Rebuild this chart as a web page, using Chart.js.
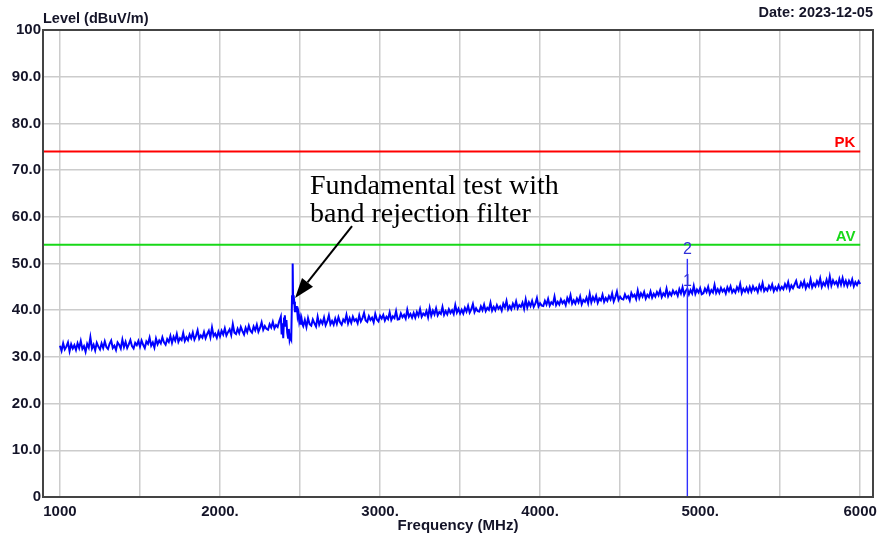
<!DOCTYPE html>
<html>
<head>
<meta charset="utf-8">
<script src="https://cdn.jsdelivr.net/npm/chart.js@4.4.1/dist/chart.umd.min.js"></script>
<style>
  html, body { margin: 0; padding: 0; background: #fff; }
  #wrap { width: 880px; height: 535px; }
</style>
</head>
<body>
<div id="wrap"><canvas id="chart" width="880" height="535"></canvas></div>
<script>
// axis ticks
const xTicks = [1000, 1500, 2000, 2500, 3000, 3500, 4000, 4500, 5000, 5500, 6000];
const xTickLabels = ["1000", "", "2000.", "", "3000.", "", "4000.", "", "5000.", "", "6000"];
const yTicks = [0, 10, 20, 30, 40, 50, 60, 70, 80, 90, 100];
const yTickLabels = ["0", "10.0", "20.0", "30.0", "40.0", "50.0", "60.0", "70.0", "80.0", "90.0", "100"];

// limits (dBuV/m)
const limitPK = 74;
const limitAV = 54;

// marker at 2nd harmonic
const markerFreq = 4920;
const markerPeak = 51;
const markerAvg = 44.3;

// sweep 1000 - 2370 MHz, 10 MHz step
const segAStart = 1000;
const segAStep = 10;
const segALevels = [
  32.4, 31.3, 32.9, 31.6, 32.2, 33.1, 31.2, 32.7, 31.8, 32.5,
  31.5, 32.9, 31.9, 33.4, 31.7, 32.3, 31.1, 32.8, 32.0, 34.2,
  31.8, 32.6, 31.4, 33.0, 32.2, 31.6, 32.9, 31.9, 33.3, 32.1,
  31.7, 32.8, 33.5, 31.9, 32.4, 31.5, 33.1, 32.6, 31.8, 33.7,
  32.1, 33.2, 31.9, 32.7, 33.6, 32.3, 31.8, 33.0, 32.5, 33.4,
  32.2, 33.5, 32.6, 31.9, 33.3, 32.8, 34.1, 32.4, 33.1, 32.0,
  33.9, 32.7, 33.5, 32.9, 34.2, 33.1, 32.6, 33.8, 33.2, 34.5,
  33.0, 34.3, 33.5, 34.9, 33.2, 34.0, 33.6, 35.1, 33.4, 34.2,
  33.6, 34.8, 34.0, 35.2, 33.7, 34.5, 35.7, 33.9, 34.6, 34.1,
  35.3, 34.0, 34.9, 35.6, 34.2, 36.3, 34.5, 35.0, 34.1, 35.4,
  34.4, 35.6, 34.8, 36.1, 34.6, 35.3, 35.9, 34.7, 37.0, 35.2,
  34.9, 36.0, 35.1, 36.4, 35.5, 34.8, 36.2, 35.3, 36.7, 35.6,
  35.2, 36.5, 35.7, 36.9, 35.4, 36.2, 37.4, 35.8, 36.6, 36.0,
  35.8, 37.0, 36.3, 37.5, 36.1, 36.8, 36.4, 37.6
];

// around the fundamental (band rejection filter)
const spikeFreqs = [2380, 2385, 2390, 2395, 2400, 2405, 2410, 2415, 2420, 2425,
  2430, 2435, 2440, 2445, 2450, 2454, 2457, 2460, 2464, 2468,
  2472, 2476, 2480, 2485, 2490, 2495, 2500, 2505, 2510, 2515];
const spikeLevels = [38.6, 34.8, 37.2, 34.0, 38.2, 38.9, 36.5, 37.9, 35.2, 34.1,
  36.0, 33.6, 34.3, 33.8, 43.0, 50.0, 41.5, 43.2, 41.8, 39.6,
  40.4, 39.8, 40.9, 38.7, 39.5, 37.6, 38.4, 36.9, 38.1, 37.0];

// sweep 2520 - 6000 MHz, 10 MHz step
const segBStart = 2520;
const segBStep = 10;
const segBLevels = [
  36.6, 37.9, 36.4, 38.3, 37.0, 36.7, 38.0, 37.2, 36.5, 38.6,
  36.9, 37.8, 37.1, 38.4, 36.8, 37.6, 38.9, 37.0, 37.7, 36.9,
  38.2, 37.1, 38.5, 37.4, 36.9, 38.0, 37.5, 39.0, 37.2, 38.3,
  37.3, 38.6, 37.7, 38.1, 37.2, 38.9, 37.6, 38.3, 39.4, 37.8,
  37.5, 38.7, 37.9, 38.4, 37.4, 39.2, 38.0, 37.6, 38.8, 38.2,
  39.0, 37.8, 38.6, 38.1, 39.5, 37.9, 38.7, 38.3, 39.8, 38.0,
  38.1, 39.3, 38.5, 39.0, 38.2, 40.1, 38.6, 39.2, 38.4, 39.4,
  38.4, 39.6, 38.8, 40.2, 38.6, 39.3, 38.9, 39.8, 38.5, 40.5,
  38.8, 39.9, 39.1, 40.4, 38.9, 39.6, 39.2, 40.7, 39.0, 39.8,
  39.1, 40.2, 39.4, 40.0, 39.2, 41.1, 39.5, 40.3, 39.3, 40.1,
  39.3, 40.5, 39.7, 40.9, 39.5, 40.2, 41.3, 39.6, 40.4, 39.8,
  39.7, 40.8, 40.0, 41.2, 39.8, 40.5, 40.1, 41.6, 39.9, 40.7,
  40.0, 41.1, 40.3, 40.8, 39.9, 41.4, 40.6, 42.0, 40.2, 40.9,
  40.2, 41.4, 40.6, 41.9, 40.4, 41.1, 40.7, 41.6, 40.3, 42.3,
  40.6, 41.7, 40.9, 42.0, 40.7, 41.4, 42.6, 40.8, 41.5, 41.0,
  40.9, 42.0, 41.2, 42.4, 41.0, 41.7, 41.3, 42.9, 41.1, 41.8,
  41.2, 42.3, 41.5, 42.0, 41.1, 42.6, 41.8, 43.2, 41.4, 42.1,
  41.4, 42.5, 41.7, 42.9, 41.3, 42.2, 41.8, 42.7, 41.5, 43.5,
  41.7, 42.8, 42.0, 43.1, 41.6, 42.5, 42.1, 43.3, 41.8, 42.6,
  42.0, 43.0, 42.3, 43.6, 41.9, 42.8, 44.0, 42.2, 42.9, 42.4,
  42.3, 43.4, 42.6, 43.0, 42.1, 43.7, 42.9, 43.3, 42.4, 44.2,
  42.6, 43.6, 42.9, 43.9, 42.5, 43.3, 42.8, 44.0, 42.7, 43.5,
  42.9, 43.9, 43.2, 44.3, 42.8, 43.6, 43.1, 44.6, 43.0, 43.8,
  43.2, 44.2, 43.5, 44.0, 43.1, 44.5, 43.6, 44.9, 43.3, 44.1,
  44.6, 43.4, 44.3, 43.6, 45.2, 43.5, 44.4, 43.8, 44.7, 43.4,
  43.6, 44.6, 43.9, 45.0, 43.5, 44.3, 43.8, 45.4, 43.7, 44.5,
  43.7, 44.8, 44.0, 44.5, 43.6, 44.9, 44.1, 45.1, 43.8, 44.4,
  43.8, 44.9, 44.2, 45.6, 43.7, 44.6, 44.0, 44.8, 43.9, 45.0,
  44.0, 45.1, 44.3, 44.8, 43.9, 45.3, 44.4, 45.8, 44.1, 44.7,
  44.2, 45.2, 44.5, 45.5, 44.1, 44.9, 44.3, 45.3, 44.4, 45.0,
  44.5, 45.6, 44.8, 46.0, 44.4, 45.3, 44.7, 45.5, 46.3, 44.9,
  44.8, 45.9, 45.1, 46.2, 44.7, 45.6, 45.0, 46.6, 44.9, 45.7,
  45.1, 46.2, 45.4, 46.8, 45.0, 45.9, 45.3, 46.5, 45.2, 47.2,
  45.3, 46.4, 45.6, 46.1, 45.2, 46.7, 45.5, 46.9, 45.4, 46.3,
  45.2, 46.3, 45.5, 46.6, 45.1, 46.0, 45.4, 46.2, 45.6
];

const xMin = 894;
const xMax = 6080;

const labelFont = '"Liberation Sans", Arial, sans-serif';

function buildTrace() {
  const pts = [];
  segALevels.forEach((v, i) => pts.push({ x: segAStart + i * segAStep, y: v }));
  spikeFreqs.forEach((f, i) => pts.push({ x: f, y: spikeLevels[i] }));
  segBLevels.forEach((v, i) => pts.push({ x: segBStart + i * segBStep, y: v }));
  return pts;
}

const overlay = {
  id: "overlay",
  afterDatasetsDraw(chart) {
    const { ctx, chartArea: a, scales: { x, y } } = chart;
    ctx.save();

    // frame
    ctx.strokeStyle = "#444";
    ctx.lineWidth = 2;
    ctx.strokeRect(a.left, a.top, a.right - a.left, a.bottom - a.top);

    // header texts
    ctx.fillStyle = "#141428";
    ctx.font = "bold 14.5px " + labelFont;
    ctx.textBaseline = "alphabetic";
    ctx.textAlign = "left";
    ctx.fillText("Level (dBuV/m)", a.left, a.top - 7);
    ctx.textAlign = "right";
    ctx.fillText("Date: 2023-12-05", a.right, a.top - 13);

    // limit labels
    const lx = x.getPixelForValue(5970);
    ctx.font = "bold 15px " + labelFont;
    ctx.fillStyle = "#ff0000";
    ctx.fillText("PK", lx, y.getPixelForValue(limitPK) - 4);
    ctx.fillStyle = "#18d818";
    ctx.fillText("AV", lx, y.getPixelForValue(limitAV) - 4);

    // marker numbers
    const mx = x.getPixelForValue(markerFreq);
    ctx.fillStyle = "#3030d8";
    ctx.font = "16px " + labelFont;
    ctx.textAlign = "center";
    ctx.textBaseline = "bottom";
    ctx.fillText("2", mx, y.getPixelForValue(markerPeak) - 1);
    ctx.fillText("1", mx, y.getPixelForValue(markerAvg) - 1);

    // annotation
    ctx.fillStyle = "#000";
    ctx.font = '28px "Liberation Serif", "Times New Roman", serif';
    ctx.textAlign = "left";
    ctx.textBaseline = "alphabetic";
    const tx = x.getPixelForValue(2562);
    const ty = y.getPixelForValue(64.9);
    ctx.fillText("Fundamental test with", tx, ty);
    ctx.fillText("band rejection filter", tx, ty + 28);

    // arrow
    const x0 = x.getPixelForValue(2825), y0 = y.getPixelForValue(58.0);
    const x1 = x.getPixelForValue(2469), y1 = y.getPixelForValue(42.6);
    const ang = Math.atan2(y1 - y0, x1 - x0);
    const head = 20, half = 7;
    const bx = x1 - head * Math.cos(ang), by = y1 - head * Math.sin(ang);
    ctx.strokeStyle = "#000";
    ctx.lineWidth = 2;
    ctx.beginPath();
    ctx.moveTo(x0, y0);
    ctx.lineTo(bx, by);
    ctx.stroke();
    ctx.beginPath();
    ctx.moveTo(x1, y1);
    ctx.lineTo(bx + half * Math.sin(ang), by - half * Math.cos(ang));
    ctx.lineTo(bx - half * Math.sin(ang), by + half * Math.cos(ang));
    ctx.closePath();
    ctx.fill();

    ctx.restore();
  }
};

new Chart(document.getElementById("chart"), {
  type: "line",
  data: {
    datasets: [
      {
        label: "PK",
        data: [{ x: xMin, y: limitPK }, { x: 6000, y: limitPK }],
        borderColor: "#ff0000",
        borderWidth: 2,
        pointRadius: 0
      },
      {
        label: "AV",
        data: [{ x: xMin, y: limitAV }, { x: 6000, y: limitAV }],
        borderColor: "#18d818",
        borderWidth: 2,
        pointRadius: 0
      },
      {
        label: "Marker",
        data: [{ x: markerFreq, y: 0 }, { x: markerFreq, y: markerPeak }],
        borderColor: "#3030ff",
        borderWidth: 1.4,
        pointRadius: 0
      },
      {
        label: "Trace",
        data: buildTrace(),
        borderColor: "#0000ff",
        borderWidth: 2,
        pointRadius: 0,
        tension: 0
      }
    ]
  },
  options: {
    responsive: false,
    animation: false,
    parsing: false,
    layout: { padding: { top: 30, right: 7, left: 0, bottom: 0 } },
    plugins: { legend: { display: false }, tooltip: { enabled: false } },
    scales: {
      x: {
        type: "linear",
        min: xMin,
        max: xMax,
        afterBuildTicks: (s) => { s.ticks = xTicks.map(v => ({ value: v })); },
        afterFit: (s) => { s.height = 38; s.paddingLeft = 0; s.paddingRight = 0; },
        grid: { color: "#cccccc", lineWidth: 1.5, drawTicks: false },
        border: { display: false },
        ticks: {
          autoSkip: false,
          maxRotation: 0,
          padding: 6,
          color: "#141428",
          font: { family: labelFont, size: 15, weight: "bold" },
          callback: (v, i) => xTickLabels[i]
        },
        title: {
          display: true,
          text: "Frequency (MHz)",
          color: "#141428",
          font: { family: labelFont, size: 15, weight: "bold" },
          padding: { top: 0, bottom: 0 }
        }
      },
      y: {
        min: 0,
        max: 100,
        afterBuildTicks: (s) => { s.ticks = yTicks.map(v => ({ value: v })); },
        afterFit: (s) => { s.width = 43; s.paddingTop = 0; s.paddingBottom = 0; },
        grid: { color: "#cccccc", lineWidth: 1.5, drawTicks: false },
        border: { display: false },
        ticks: {
          padding: 2,
          color: "#141428",
          font: { family: labelFont, size: 15, weight: "bold" },
          callback: (v, i) => yTickLabels[i]
        }
      }
    }
  },
  plugins: [overlay]
});
</script>
</body>
</html>
